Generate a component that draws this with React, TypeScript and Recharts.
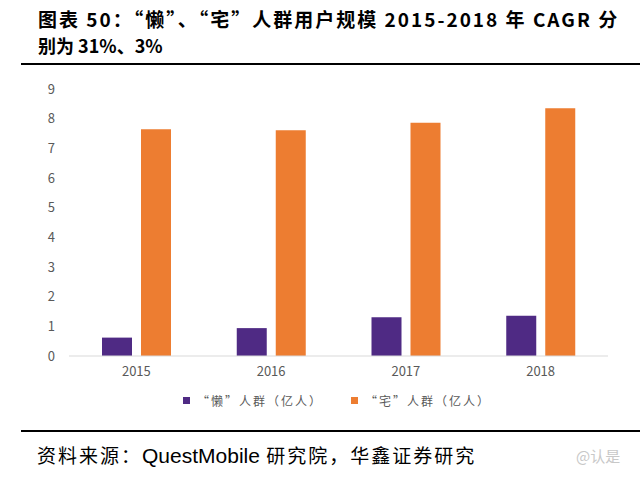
import { Bar, BarChart, XAxis, YAxis } from "recharts";

const years = ["2015", "2016", "2017", "2018"];
const lanValues = [0.62, 0.94, 1.31, 1.36];
const zhaiValues = [7.64, 7.61, 7.86, 8.35];
const yTicks = [0, 1, 2, 3, 4, 5, 6, 7, 8, 9];

const lanName = "“懒”人群（亿人）";
const zhaiName = "“宅”人群（亿人）";

const PURPLE = "#4F2A84";
const ORANGE = "#ED7D31";

const data = years.map((year, i) => ({
	year,
	lan: lanValues[i],
	zhai: zhaiValues[i],
}));

const cjk = '"Noto Sans CJK SC", "Noto Sans", sans-serif';

const legendItems = [
	{ name: lanName, color: PURPLE },
	{ name: zhaiName, color: ORANGE },
];

const ChartLegend = () => (
	<div
		style={{
			position: "absolute",
			left: 183,
			top: 392,
			display: "flex",
			gap: 28,
			fontFamily: cjk,
			fontSize: 12,
			letterSpacing: 2,
			color: "#595959",
			whiteSpace: "nowrap",
		}}
	>
		{legendItems.map((item) => (
			<div key={item.name} style={{ display: "flex", alignItems: "center" }}>
				<span
					style={{
						width: 7,
						height: 7,
						background: item.color,
						marginRight: 7,
						display: "inline-block",
					}}
				/>
				<span>{item.name}</span>
			</div>
		))}
	</div>
);

const App = () => {
	return (
		<div
			style={{
				position: "absolute",
				left: 0,
				top: 0,
				width: 640,
				height: 478,
				background: "#fff",
				overflow: "hidden",
			}}
		>
			<div
				style={{
					position: "absolute",
					left: 38,
					top: 5,
					fontFamily: cjk,
					fontWeight: "bold",
					fontSize: 19,
					lineHeight: "27px",
					color: "#000",
					whiteSpace: "nowrap",
				}}
			>
				<div style={{ letterSpacing: 2 }}>
					图表 50：“懒”、“宅”人群用户规模 2015-2018 年 CAGR 分
				</div>
				<div style={{ fontSize: 18 }}>别为 31%、3%</div>
			</div>
			<div
				style={{
					position: "absolute",
					left: 21,
					top: 63,
					width: 619,
					height: 2,
					background: "#000",
				}}
			/>
			<BarChart
				width={640}
				height={478}
				data={data}
				barSize={30}
				barGap={9}
				margin={{ top: 89, right: 32, left: 0, bottom: 92 }}
				style={{ position: "absolute", left: 0, top: 0 }}
			>
				<XAxis
					dataKey='year'
					height={30}
					tickLine={false}
					axisLine={{ stroke: "#D9D9D9" }}
					tickSize={0}
					tickMargin={11}
					tick={{ fill: "#595959", fontSize: 13, fontFamily: cjk }}
				/>
				<YAxis
					width={69}
					domain={[0, 9]}
					ticks={yTicks}
					axisLine={false}
					tickLine={false}
					tickSize={0}
					tickMargin={14}
					tick={{ fill: "#595959", fontSize: 13, fontFamily: cjk }}
				/>
				<Bar dataKey='lan' name={lanName} fill={PURPLE} isAnimationActive={false} />
				<Bar dataKey='zhai' name={zhaiName} fill={ORANGE} isAnimationActive={false} />
			</BarChart>
			<ChartLegend />
			<div
				style={{
					position: "absolute",
					left: 21,
					top: 430,
					width: 619,
					height: 2,
					background: "#000",
				}}
			/>
			<div
				style={{
					position: "absolute",
					left: 37,
					top: 441,
					fontFamily: cjk,
					fontSize: 19,
					letterSpacing: 2,
					color: "#000",
					whiteSpace: "nowrap",
				}}
			>
				资料来源：
				<span
					style={{
						fontFamily: "Liberation Sans, Arial, sans-serif",
						fontSize: 21,
						letterSpacing: 0,
					}}
				>
					QuestMobile
				</span>{" "}
				研究院，华鑫证券研究
			</div>
			<div
				style={{
					position: "absolute",
					left: 576,
					top: 445,
					fontFamily: cjk,
					fontSize: 15,
					color: "#C8C8C8",
					whiteSpace: "nowrap",
				}}
			>
				@认是
			</div>
		</div>
	);
};

export default App;
